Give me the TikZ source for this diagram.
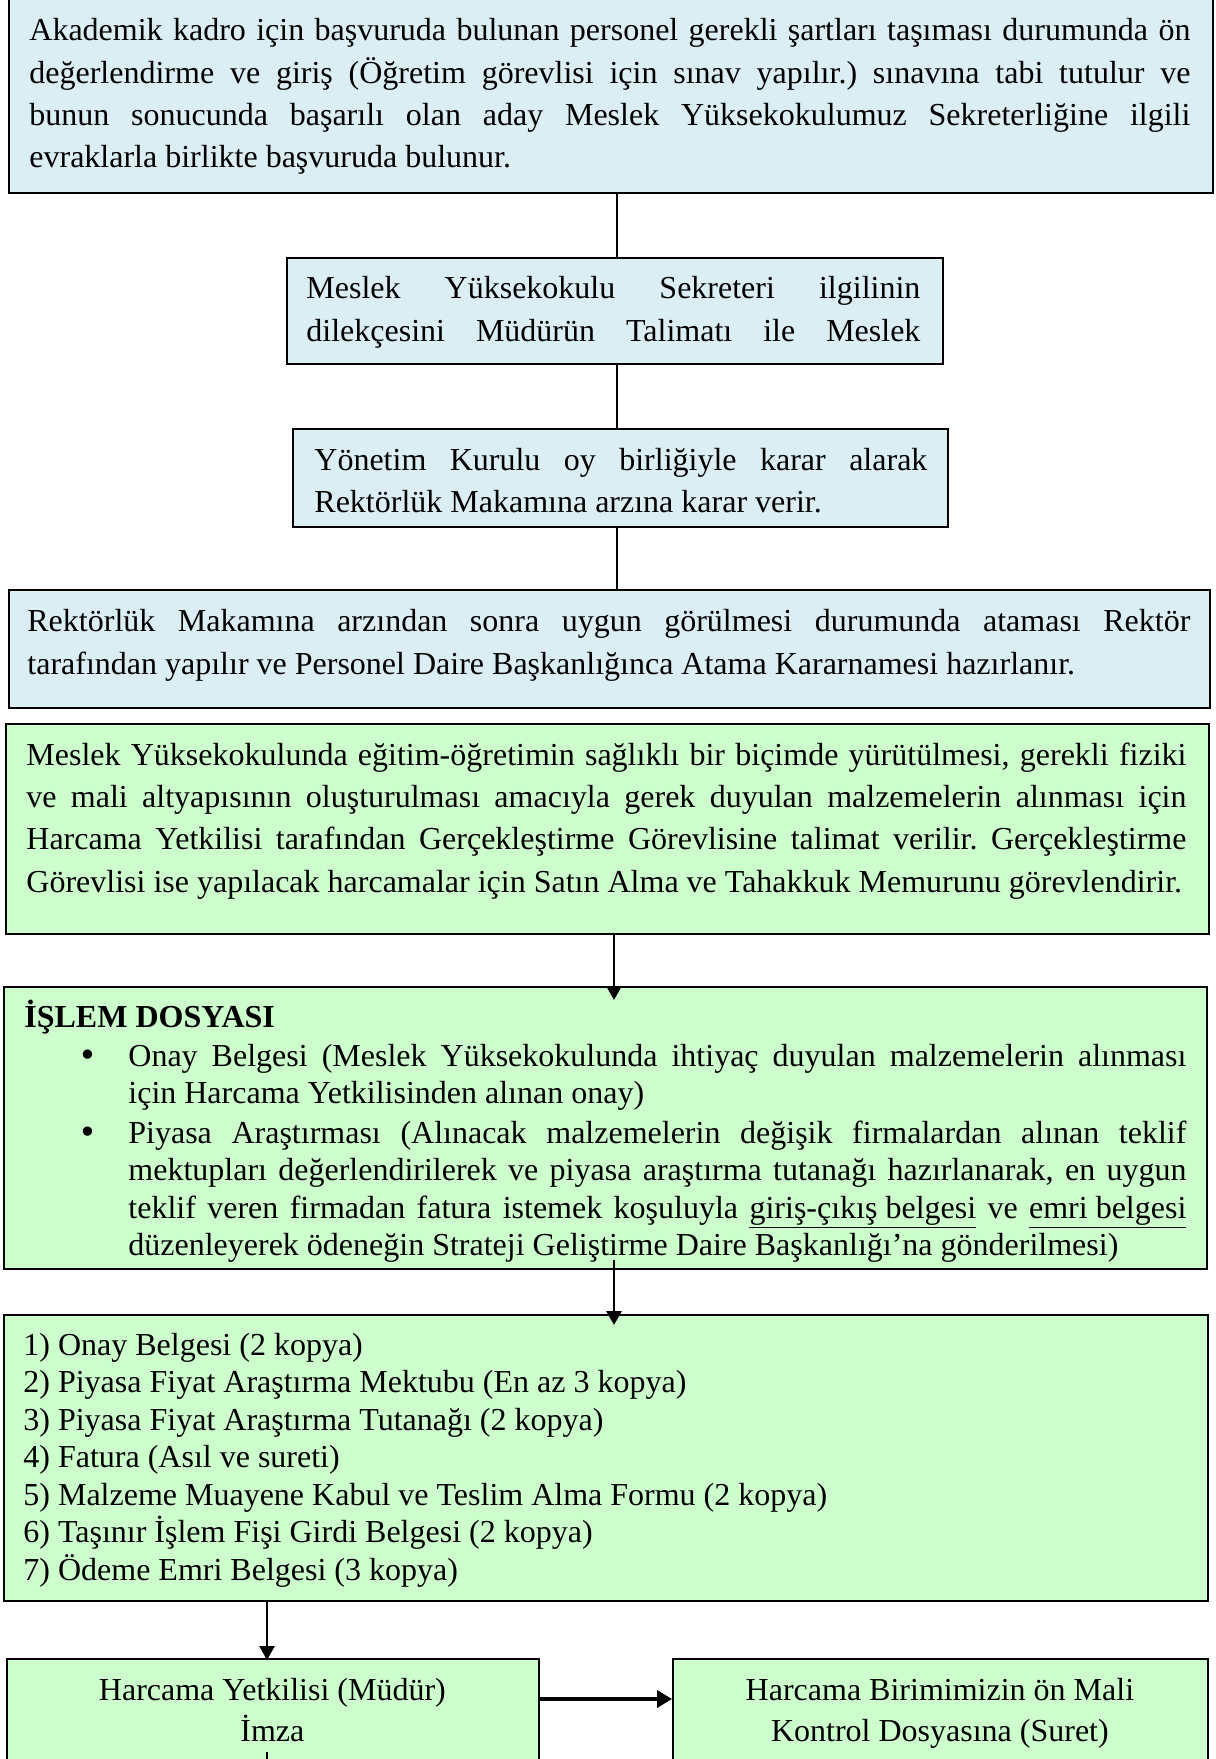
\documentclass[tikz,border=0pt]{standalone}
\usepackage{fontspec}
\setmainfont[Ligatures=CommonOff]{Liberation Serif}
\newfontfamily\bulfont{DejaVu Sans}
\usetikzlibrary{arrows.meta,calc}
\definecolor{boxblue}{HTML}{DAEEF3}
\definecolor{boxgreen}{HTML}{CCFFCC}
\newcommand\normsp{\spaceskip=0pt\xspaceskip=0pt\frenchspacing}
\newcommand\jline[1]{\makebox[\linewidth][s]{#1}}
\newcommand\centline[1]{\makebox[\linewidth][c]{#1}}
\newcommand\jitem[1]{\makebox[529pt][s]{#1}}
\newcommand\bulmark{\makebox[52pt][l]{\hspace{26.8pt}{\bulfont •}}}
\newcommand\bulind{\hspace*{52pt}}
\begin{document}
\begin{tikzpicture}[x=0.5pt,y=-0.5pt,
  flowbox/.style={draw=black, line width=0.8pt, rectangle, anchor=north west, inner sep=0pt},
  bluebox/.style={flowbox, fill=boxblue},
  greenbox/.style={flowbox, fill=boxgreen},
  bodytext/.style={anchor=base west, inner sep=0pt, align=left},
  link/.style={line width=1.4pt},
  arrowlink/.style={line width=1.4pt, -{Triangle[length=7pt,width=7.5pt]}},
  thickarrow/.style={line width=2pt, -{Triangle[length=7.5pt,width=8.5pt]}}]

\useasboundingbox (0,0) rectangle (1215,1759);
\fill[white] (0,0) rectangle (1215,1759);

% boxes
\node[bluebox, minimum width=602pt, minimum height=106pt] (b1) at (8,-20) {};
\node[bluebox, minimum width=328pt, minimum height=53pt] (b2) at (286,257) {};
\node[bluebox, minimum width=327.5pt, minimum height=49pt] (b3) at (292,428) {};
\node[bluebox, minimum width=600.5pt, minimum height=59pt] (b4) at (8,589) {};
\node[greenbox, minimum width=601.5pt, minimum height=105pt] (b5) at (5,723) {};
\node[greenbox, minimum width=601.5pt, minimum height=141pt] (b6) at (3,986) {};
\node[greenbox, minimum width=602pt, minimum height=143pt] (b7) at (3,1314) {};
\node[greenbox, minimum width=266pt, minimum height=71pt] (b8) at (6,1658) {};
\node[greenbox, minimum width=267.5pt, minimum height=71pt] (b9) at (672,1658) {};

% texts
\node[bodytext, text width=580.5pt, font=\fontsize{16}{21.1}\selectfont] (t1) at (29,41)
{\normsp\jline{Akademik kadro için başvuruda bulunan personel gerekli şartları taşıması durumunda ön}\\
\jline{değerlendirme ve giriş (Öğretim görevlisi için sınav yapılır.) sınavına tabi tutulur ve}\\
\jline{bunun sonucunda başarılı olan aday Meslek Yüksekokulumuz Sekreterliğine ilgili}\\
evraklarla birlikte başvuruda bulunur.};

\node[bodytext, text width=307pt, font=\fontsize{16}{21.5}\selectfont] (t2) at (306,299)
{\normsp\jline{Meslek Yüksekokulu Sekreteri ilgilinin}\\
\jline{dilekçesini Müdürün Talimatı ile Meslek}};

\node[bodytext, text width=306.5pt, font=\fontsize{16}{21.3}\selectfont] (t3) at (314,470)
{\normsp\jline{Yönetim Kurulu oy birliğiyle karar alarak}\\
Rektörlük Makamına arzına karar verir.};

\node[bodytext, text width=581.5pt, font=\fontsize{16}{21.5}\selectfont] (t4) at (27,631)
{\normsp\jline{Rektörlük Makamına arzından sonra uygun görülmesi durumunda ataması Rektör}\\
tarafından yapılır ve Personel Daire Başkanlığınca Atama Kararnamesi hazırlanır.};

\node[bodytext, text width=580pt, font=\fontsize{16}{21.2}\selectfont] (t5) at (26,765)
{\normsp\jline{Meslek Yüksekokulunda eğitim-öğretimin sağlıklı bir biçimde yürütülmesi, gerekli fiziki}\\
\jline{ve mali altyapısının oluşturulması amacıyla gerek duyulan malzemelerin alınması için}\\
\jline{Harcama Yetkilisi tarafından Gerçekleştirme Görevlisine talimat verilir. Gerçekleştirme}\\
Görevlisi ise yapılacak harcamalar için Satın Alma ve Tahakkuk Memurunu görevlendirir.};

\node[bodytext, text width=581pt, font=\fontsize{16}{18.6}\selectfont] (t6) at (24,1027)
{\normsp\textbf{İŞLEM DOSYASI}\\[1pt]
\bulmark\jitem{Onay Belgesi (Meslek Yüksekokulunda ihtiyaç duyulan malzemelerin alınması}\\
\bulind için Harcama Yetkilisinden alınan onay)\\[1.5pt]
\bulmark\jitem{Piyasa Araştırması (Alınacak malzemelerin değişik firmalardan alınan teklif}\\
\bulind\jitem{mektupları değerlendirilerek ve piyasa araştırma tutanağı hazırlanarak, en uygun}\\
\bulind\jitem{teklif veren firmadan fatura istemek koşuluyla \underline{giriş-çıkış belgesi} ve \underline{emri belgesi}}\\
\bulind düzenleyerek ödeneğin Strateji Geliştirme Daire Başkanlığı’na gönderilmesi)};

\node[bodytext, text width=590pt, font=\fontsize{16}{18.75}\selectfont] (t7) at (23,1355)
{\normsp 1) Onay Belgesi (2 kopya)\\
2) Piyasa Fiyat Araştırma Mektubu (En az 3 kopya)\\
3) Piyasa Fiyat Araştırma Tutanağı (2 kopya)\\
4) Fatura (Asıl ve sureti)\\
5) Malzeme Muayene Kabul ve Teslim Alma Formu (2 kopya)\\
6) Taşınır İşlem Fişi Girdi Belgesi (2 kopya)\\
7) Ödeme Emri Belgesi (3 kopya)};

\node[bodytext, text width=260pt, font=\fontsize{16}{20.5}\selectfont] (t8) at (12,1700)
{\normsp\centline{Harcama Yetkilisi (Müdür)}\\\centline{İmza}};
\node[bodytext, text width=260pt, font=\fontsize{16}{20.5}\selectfont] (t9) at (679.5,1700)
{\normsp\centline{Harcama Birimimizin ön Mali}\\\centline{Kontrol Dosyasına (Suret)}};

% connectors
\coordinate (xa) at (617,0);
\coordinate (xb) at (614,0);
\coordinate (xc) at (267,0);
\coordinate (ya) at (0,1699);
\coordinate (tk1) at (267,1752);
\coordinate (tk2) at (267,1764);
\draw[link] (xa |- b1.south) -- (xa |- b2.north);
\draw[link] (xa |- b2.south) -- (xa |- b3.north);
\draw[link] (xa |- b3.south) -- (xa |- b4.north);
\draw[arrowlink] (xb |- b5.south) -- ($(xb |- b6.north)+(0,14)$);
\draw[arrowlink] ($(xb |- b6.south)+(0,-10)$) -- ($(xb |- b7.north)+(0,11)$);
\draw[arrowlink] (xc |- b7.south) -- ($(xc |- b8.north)+(0,2)$);
\draw[thickarrow] (b8.east |- ya) -- (b9.west |- ya);
\draw[link] (tk1) -- (tk2);
\end{tikzpicture}
\end{document}
